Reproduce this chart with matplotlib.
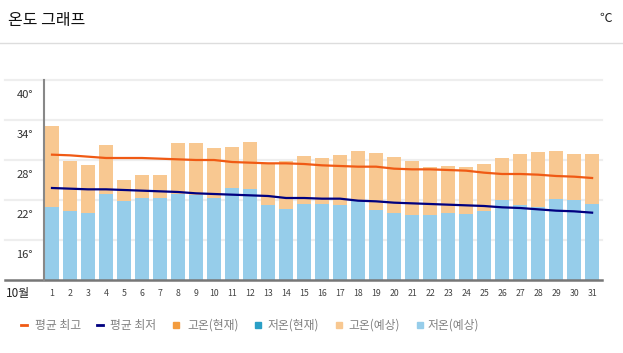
import matplotlib
matplotlib.use('Agg')
import matplotlib.pyplot as plt
import matplotlib.transforms as mtransforms
from matplotlib.lines import Line2D
from matplotlib.patches import Rectangle
import numpy as np

plt.rcParams['font.family'] = ['Noto Sans CJK KR', 'DejaVu Sans']

# Data
days = list(range(1, 32))
high_fc = [33.1, 27.8, 27.3, 30.3, 25.0, 25.8, 25.8, 30.6, 30.6, 29.8,
           30.0, 30.7, 27.4, 27.9, 28.6, 28.3, 28.8, 29.4, 29.1, 28.5,
           27.9, 26.9, 27.1, 26.9, 27.4, 28.3, 28.9, 29.2, 29.4, 28.9, 28.9]
low_fc = [20.9, 20.4, 20.0, 22.9, 21.9, 22.3, 22.3, 22.9, 22.8, 22.3,
          23.8, 23.6, 21.2, 20.7, 21.4, 21.4, 21.2, 21.8, 20.5, 20.0,
          19.8, 19.8, 20.0, 19.9, 20.3, 22.0, 21.2, 20.9, 22.2, 22.0, 21.4]
avg_high = [28.8, 28.7, 28.5, 28.3, 28.3, 28.3, 28.2, 28.1, 28.0, 28.0,
            27.7, 27.6, 27.5, 27.5, 27.4, 27.2, 27.1, 27.0, 27.0, 26.7,
            26.6, 26.6, 26.5, 26.4, 26.1, 25.9, 25.9, 25.8, 25.6, 25.5, 25.3]
avg_low = [23.8, 23.7, 23.6, 23.6, 23.5, 23.4, 23.3, 23.2, 23.0, 22.9,
           22.8, 22.7, 22.6, 22.3, 22.3, 22.2, 22.2, 21.9, 21.8, 21.6,
           21.5, 21.4, 21.3, 21.2, 21.1, 20.9, 20.8, 20.6, 20.4, 20.3, 20.1]
y_ticks = [16, 22, 28, 34, 40]
month_label = '10월'
title = '온도 그래프'
unit = '℃'
legend_labels = ['평균 최고', '평균 최저', '고온(현재)', '저온(현재)', '고온(예상)', '저온(예상)']

c_high_line = '#F05A14'
c_low_line = '#000080'
c_high_bar = '#F8C891'
c_low_bar = '#96CDEA'
c_high_now = '#F39C3E'
c_low_now = '#2A9FC6'

W, H = 623, 353
fig = plt.figure(figsize=(W / 100, H / 100), dpi=100)
fig.patch.set_facecolor('white')

def fx(px):
    return px / W

def fy(py):
    return 1 - py / H

# header
fig.text(fx(8), fy(20), title, fontsize=11.5, color='#111111', va='center', ha='left')
fig.text(fx(612), fy(18), unit, fontsize=9, color='#222222', va='center', ha='right')
fig.add_artist(Line2D([0, 1], [fy(43), fy(43)], color='#dddddd', lw=1))

# axes: spans 5..602 px horizontally, 80..280 px vertically
ax = fig.add_axes([fx(5), fy(280), fx(602) - fx(5), fy(80) - fy(280)])
ax.set_xlim(-1.61, 31.55)
ax.set_ylim(10, 40)
for s in ax.spines.values():
    s.set_visible(False)
ax.set_xticks([])
ax.set_yticks([])

for t in y_ticks:
    ax.axhline(t, color='#eeeeee', lw=1.6, zorder=0, clip_on=False)

x = np.array(days)
ax.bar(x, np.array(high_fc) - 10, bottom=10, width=0.76, color=c_high_bar, zorder=2)
ax.bar(x, np.array(low_fc) - 10, bottom=10, width=0.76, color=c_low_bar, zorder=3)
ax.plot(x, avg_high, color=c_high_line, lw=1.6, zorder=4)
ax.plot(x, avg_low, color=c_low_line, lw=1.6, zorder=4)

# axis lines
ax.axhline(10, color='#777777', lw=1.8, zorder=5, clip_on=False)
ax.plot([0.54, 0.54], [10, 40], color='#888888', lw=1.5, zorder=5, clip_on=False)

# y labels sit a little below their gridline
ylab_tr = mtransforms.blended_transform_factory(fig.transFigure, ax.transData)
ylab_tr = ylab_tr + mtransforms.ScaledTranslation(0, -0.15, fig.dpi_scale_trans)
for t in y_ticks:
    ax.text(fx(33), t, f'{t}°', transform=ylab_tr, ha='right', va='center',
            fontsize=8, color='#333333')

# x labels
xlab_tr = mtransforms.blended_transform_factory(ax.transData, fig.transFigure)
for d in days:
    ax.text(d, fy(293), str(d), transform=xlab_tr, ha='center', va='center',
            fontsize=6.3, color='#444444')
fig.text(fx(18), fy(293), month_label, fontsize=8.5, color='#222222', ha='center', va='center')

# legend drawn by hand
ly = fy(325)
fig.add_artist(Line2D([fx(21), fx(27)], [ly, ly], color=c_high_line, lw=2))
fig.add_artist(Line2D([fx(97), fx(103)], [ly, ly], color=c_low_line, lw=2))
sq = 6
for px, col in [(173, c_high_now), (255, c_low_now), (336, c_high_bar), (417, c_low_bar)]:
    fig.add_artist(Rectangle((fx(px), fy(325 + sq / 2)), fx(sq), sq / H,
                             color=col, transform=fig.transFigure))
for px, lab in zip([35, 110, 187, 268, 348, 428], legend_labels):
    fig.text(fx(px), ly, lab, fontsize=8.5, color='#808080', ha='left', va='center')

fig.savefig('out.png', dpi=100)
